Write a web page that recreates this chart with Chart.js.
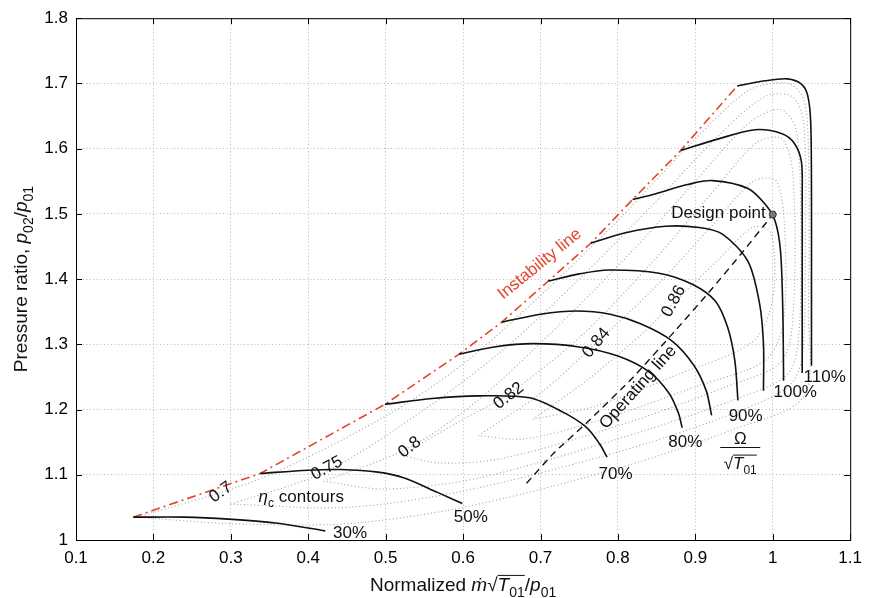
<!DOCTYPE html>
<html>
<head>
<meta charset="utf-8">
<script src="https://cdn.jsdelivr.net/npm/chart.js@4"></script>
<style>
  html, body { margin: 0; padding: 0; background: #fff; }
  #wrap { width: 870px; height: 598px; }
</style>
</head>
<body>
<div id="wrap"><canvas id="mapChart" width="870" height="598"></canvas></div>
<script>
// axis ticks
const xTicks = [0.1, 0.2, 0.3, 0.4, 0.5, 0.6, 0.7, 0.8, 0.9, 1.0, 1.1];
const yTicks = [1.0, 1.1, 1.2, 1.3, 1.4, 1.5, 1.6, 1.7, 1.8];

// constant speed lines [mass flow, pressure ratio]
const speed30 = [[0.174, 1.035], [0.24, 1.035], [0.297, 1.032], [0.358, 1.026], [0.422, 1.014]];
const speed50 = [[0.338, 1.102], [0.40, 1.107], [0.442, 1.108], [0.49, 1.104], [0.524, 1.095], [0.567, 1.073], [0.599, 1.056]];
const speed70 = [[0.499, 1.208], [0.56, 1.217], [0.62, 1.221], [0.686, 1.218], [0.729, 1.196], [0.759, 1.173], [0.776, 1.148], [0.786, 1.127]];
const speed80 = [[0.595, 1.285], [0.64, 1.296], [0.691, 1.301], [0.75, 1.296], [0.80, 1.282], [0.84, 1.258], [0.866, 1.225], [0.878, 1.195], [0.883, 1.172]];
const speed85 = [[0.650, 1.334], [0.70, 1.346], [0.746, 1.351], [0.79, 1.346], [0.83, 1.331], [0.87, 1.305], [0.898, 1.268], [0.914, 1.229], [0.921, 1.191]];
const speed90 = [[0.710, 1.397], [0.75, 1.408], [0.788, 1.414], [0.853, 1.409], [0.896, 1.392], [0.926, 1.366], [0.942, 1.325], [0.951, 1.275], [0.955, 1.214]];
const speed95 = [[0.765, 1.455], [0.81, 1.471], [0.862, 1.481], [0.905, 1.479], [0.935, 1.469], [0.968, 1.427], [0.983, 1.362], [0.988, 1.30], [0.988, 1.229]];
const speed100 = [[0.819, 1.522], [0.849, 1.531], [0.89, 1.545], [0.922, 1.551], [0.968, 1.539], [0.990, 1.515], [1.003, 1.489], [1.010, 1.443], [1.013, 1.35], [1.014, 1.244]];
const speed105 = [[0.881, 1.597], [0.93, 1.615], [0.977, 1.629], [1.012, 1.623], [1.028, 1.608], [1.037, 1.58], [1.038, 1.53], [1.038, 1.40], [1.038, 1.256]];
const speed110 = [[0.954, 1.696], [0.99, 1.704], [1.019, 1.707], [1.037, 1.699], [1.045, 1.682], [1.049, 1.641], [1.050, 1.53], [1.050, 1.40], [1.050, 1.267]];

const instabilityLine = [[0.174, 1.035], [0.338, 1.102], [0.499, 1.208], [0.595, 1.285], [0.650, 1.334], [0.710, 1.397], [0.765, 1.455], [0.819, 1.522], [0.881, 1.597], [0.954, 1.696]];
const operatingLine = [[0.682, 1.087], [0.717, 1.133], [0.759, 1.179], [0.82, 1.25], [0.874, 1.321], [0.917, 1.379], [0.960, 1.44], [1.0, 1.499]];
const designPoint = [[1.0, 1.499]];

// efficiency contours (closed loops)
const eta70 = [[0.18, 1.035], [0.34, 1.095], [0.5, 1.19], [0.6, 1.27], [0.7, 1.375], [0.8, 1.49], [0.9, 1.615], [0.97, 1.69], [1.02, 1.70], [1.04, 1.675], [1.046, 1.6], [1.046, 1.35], [1.04, 1.22], [0.95, 1.17], [0.8, 1.11], [0.6, 1.05], [0.45, 1.025], [0.3, 1.025], [0.18, 1.035]];
const eta75 = [[0.30, 1.055], [0.423, 1.105], [0.55, 1.20], [0.65, 1.29], [0.75, 1.40], [0.85, 1.52], [0.93, 1.62], [0.99, 1.68], [1.025, 1.68], [1.04, 1.64], [1.042, 1.45], [1.038, 1.28], [1.02, 1.235], [0.94, 1.19], [0.8, 1.135], [0.6, 1.075], [0.45, 1.05], [0.30, 1.055]];
const eta80 = [[0.42, 1.09], [0.531, 1.142], [0.62, 1.215], [0.72, 1.325], [0.82, 1.445], [0.9, 1.55], [0.97, 1.64], [1.01, 1.66], [1.03, 1.63], [1.036, 1.5], [1.034, 1.32], [1.02, 1.255], [0.95, 1.215], [0.8, 1.155], [0.62, 1.095], [0.5, 1.078], [0.42, 1.09]];
const eta82 = [[0.52, 1.13], [0.60, 1.185], [0.659, 1.224], [0.75, 1.31], [0.84, 1.42], [0.92, 1.53], [0.98, 1.61], [1.012, 1.615], [1.026, 1.56], [1.027, 1.36], [1.012, 1.275], [0.94, 1.235], [0.8, 1.175], [0.65, 1.125], [0.57, 1.118], [0.52, 1.13]];
const eta84 = [[0.62, 1.16], [0.70, 1.225], [0.772, 1.302], [0.85, 1.39], [0.92, 1.48], [0.975, 1.55], [1.005, 1.55], [1.016, 1.46], [1.013, 1.33], [0.99, 1.275], [0.9, 1.235], [0.78, 1.185], [0.68, 1.155], [0.62, 1.16]];
const eta86 = [[0.69, 1.185], [0.76, 1.245], [0.83, 1.315], [0.874, 1.366], [0.93, 1.43], [0.975, 1.48], [0.998, 1.47], [1.0, 1.37], [0.975, 1.305], [0.88, 1.255], [0.77, 1.205], [0.69, 1.185]];

// labels
const speedLabels = ['30%', '50%', '70%', '80%', '90%', '100%', '110%'];
const speedLabelAt = [[0.454, 1.011], [0.610, 1.035], [0.797, 1.101], [0.887, 1.150], [0.965, 1.189], [1.029, 1.226], [1.067, 1.249]];
const etaLabels = ['0.7', '0.75', '0.8', '0.82', '0.84', '0.86'];
const etaLabelAt = [[0.287, 1.073], [0.424, 1.110], [0.531, 1.142], [0.659, 1.221], [0.772, 1.302], [0.872, 1.366]];
const etaLabelAngle = [-35, -28, -38, -38, -50, -62];

const FONT = '"Liberation Sans", Arial, Helvetica, sans-serif';
const RED = '#e5442b';

const toXY = pts => pts.map(p => ({ x: p[0], y: p[1] }));

const speedSet = pts => ({
  data: toXY(pts), showLine: true, borderColor: '#111', borderWidth: 1.6,
  tension: 0.3, pointRadius: 0, order: 1
});
const etaSet = pts => ({
  data: toXY(pts), showLine: true, borderColor: '#a0a0a0', borderWidth: 1.1,
  borderDash: [1, 2.5], tension: 0.3, pointRadius: 0, order: 5
});

// draw text made of pieces (italic, subscript, overline)
function drawRich(ctx, segs, x, y, size, align) {
  const fontOf = s => (s.it ? 'italic ' : '') + (s.sub ? Math.round(size * 0.72) : size) + 'px ' + FONT;
  let w = 0;
  segs.forEach(s => { ctx.font = fontOf(s); s.w = ctx.measureText(s.t).width; w += s.w; });
  let cx = align === 'center' ? x - w / 2 : align === 'right' ? x - w : x;
  ctx.textAlign = 'left';
  ctx.textBaseline = 'alphabetic';
  segs.forEach(s => {
    ctx.font = fontOf(s);
    ctx.fillText(s.t, cx, y + (s.sub ? size * 0.3 : 0));
    if (s.over) {
      ctx.beginPath();
      ctx.lineWidth = 1;
      ctx.moveTo(cx, y - size * 0.82);
      ctx.lineTo(cx + s.w, y - size * 0.82);
      ctx.stroke();
    }
    cx += s.w;
  });
}

function drawLabel(ctx, text, px, py, angle, color, size) {
  ctx.save();
  ctx.translate(px, py);
  ctx.rotate(angle * Math.PI / 180);
  ctx.fillStyle = color;
  ctx.font = size + 'px ' + FONT;
  ctx.textAlign = 'center';
  ctx.textBaseline = 'middle';
  ctx.fillText(text, 0, 0);
  ctx.restore();
}

const decorations = {
  id: 'decorations',
  afterDatasetsDraw(chart) {
    const { ctx, chartArea: a, scales: { x, y } } = chart;
    ctx.save();
    // frame and inward ticks
    ctx.strokeStyle = '#000';
    ctx.lineWidth = 1;
    ctx.strokeRect(a.left + 0.5, a.top + 0.5, a.right - a.left, a.bottom - a.top);
    ctx.beginPath();
    xTicks.forEach(v => {
      const px = Math.round(x.getPixelForValue(v)) + 0.5;
      ctx.moveTo(px, a.bottom); ctx.lineTo(px, a.bottom - 6);
      ctx.moveTo(px, a.top); ctx.lineTo(px, a.top + 6);
    });
    yTicks.forEach(v => {
      const py = Math.round(y.getPixelForValue(v)) + 0.5;
      ctx.moveTo(a.left, py); ctx.lineTo(a.left + 6, py);
      ctx.moveTo(a.right, py); ctx.lineTo(a.right - 6, py);
    });
    ctx.stroke();

    // speed labels
    speedLabels.forEach((t, i) => {
      drawLabel(ctx, t, x.getPixelForValue(speedLabelAt[i][0]), y.getPixelForValue(speedLabelAt[i][1]), 0, '#111', 17);
    });
    // efficiency labels
    etaLabels.forEach((t, i) => {
      drawLabel(ctx, t, x.getPixelForValue(etaLabelAt[i][0]), y.getPixelForValue(etaLabelAt[i][1]), etaLabelAngle[i], '#111', 17);
    });

    drawLabel(ctx, 'Instability line', x.getPixelForValue(0.699), y.getPixelForValue(1.423), -39, RED, 17);
    drawLabel(ctx, 'Operating line', x.getPixelForValue(0.826), y.getPixelForValue(1.234), -48, '#111', 17);

    ctx.fillStyle = '#111';
    ctx.font = '17px ' + FONT;
    ctx.textAlign = 'right';
    ctx.textBaseline = 'middle';
    ctx.fillText('Design point', x.getPixelForValue(0.991), y.getPixelForValue(1.501));

    ctx.strokeStyle = '#111';
    drawRich(ctx, [{ t: 'η', it: true }, { t: 'c', sub: true }, { t: ' contours' }],
      x.getPixelForValue(0.391), y.getPixelForValue(1.066) + 5, 17, 'center');

    // speed parameter fraction
    const fx = x.getPixelForValue(0.958);
    drawRich(ctx, [{ t: 'Ω' }], fx, y.getPixelForValue(1.157) + 6, 17, 'center');
    ctx.beginPath();
    ctx.lineWidth = 1;
    ctx.moveTo(fx - 20, Math.round(y.getPixelForValue(1.142)) + 0.5);
    ctx.lineTo(fx + 20, Math.round(y.getPixelForValue(1.142)) + 0.5);
    ctx.stroke();
    drawRich(ctx, [{ t: '√' }, { t: 'T', it: true, over: true }, { t: '01', sub: true, over: true }],
      fx, y.getPixelForValue(1.118) + 6, 17, 'center');

    // axis titles
    drawRich(ctx, [{ t: 'Normalized ' }, { t: 'ṁ', it: true }, { t: '√' }, { t: 'T', it: true, over: true },
      { t: '01', sub: true, over: true }, { t: '/' }, { t: 'p', it: true }, { t: '01', sub: true }],
      (a.left + a.right) / 2, 591, 19, 'center');
    ctx.translate(27, (a.top + a.bottom) / 2);
    ctx.rotate(-Math.PI / 2);
    drawRich(ctx, [{ t: 'Pressure ratio, ' }, { t: 'p', it: true }, { t: '02', sub: true }, { t: '/' },
      { t: 'p', it: true }, { t: '01', sub: true }], 0, 0, 19, 'center');
    ctx.restore();
  }
};

const tickFont = { family: FONT, size: 17 };
const fmt = v => String(+v.toFixed(1));

new Chart(document.getElementById('mapChart').getContext('2d'), {
  type: 'scatter',
  data: {
    datasets: [
      speedSet(speed30), speedSet(speed50), speedSet(speed70), speedSet(speed80), speedSet(speed85),
      speedSet(speed90), speedSet(speed95), speedSet(speed100), speedSet(speed105), speedSet(speed110),
      {
        data: toXY(instabilityLine), showLine: true, borderColor: RED, borderWidth: 1.6,
        borderDash: [9, 4, 2, 4], tension: 0, pointRadius: 0, order: 2
      },
      {
        data: toXY(operatingLine), showLine: true, borderColor: '#111', borderWidth: 1.4,
        borderDash: [7, 5], tension: 0.2, pointRadius: 0, order: 2
      },
      {
        data: toXY(designPoint), showLine: false, pointRadius: 3.5, pointBackgroundColor: '#777',
        pointBorderColor: '#333', pointBorderWidth: 1, order: 0
      },
      etaSet(eta70), etaSet(eta75), etaSet(eta80), etaSet(eta82), etaSet(eta84), etaSet(eta86)
    ]
  },
  options: {
    responsive: false,
    animation: false,
    events: [],
    layout: { padding: { left: 0, right: 14, top: 16, bottom: 0 } },
    plugins: { legend: { display: false }, tooltip: { enabled: false } },
    scales: {
      x: {
        type: 'linear', min: 0.1, max: 1.1,
        afterFit: s => { s.height = 58; },
        afterBuildTicks: s => { s.ticks = xTicks.map(v => ({ value: v })); },
        ticks: { callback: fmt, font: tickFont, color: '#000', padding: 8, maxRotation: 0, autoSkip: false },
        grid: { color: '#b8b8b8', lineWidth: 1, drawTicks: false },
        border: { display: false, dash: [1, 2.5] }
      },
      y: {
        type: 'linear', min: 1.0, max: 1.8,
        afterFit: s => { s.width = 76; },
        afterBuildTicks: s => { s.ticks = yTicks.map(v => ({ value: v })); },
        ticks: { callback: fmt, font: tickFont, color: '#000', padding: 8, autoSkip: false },
        grid: { color: '#b8b8b8', lineWidth: 1, drawTicks: false },
        border: { display: false, dash: [1, 2.5] }
      }
    }
  },
  plugins: [decorations]
});
</script>
</body>
</html>
